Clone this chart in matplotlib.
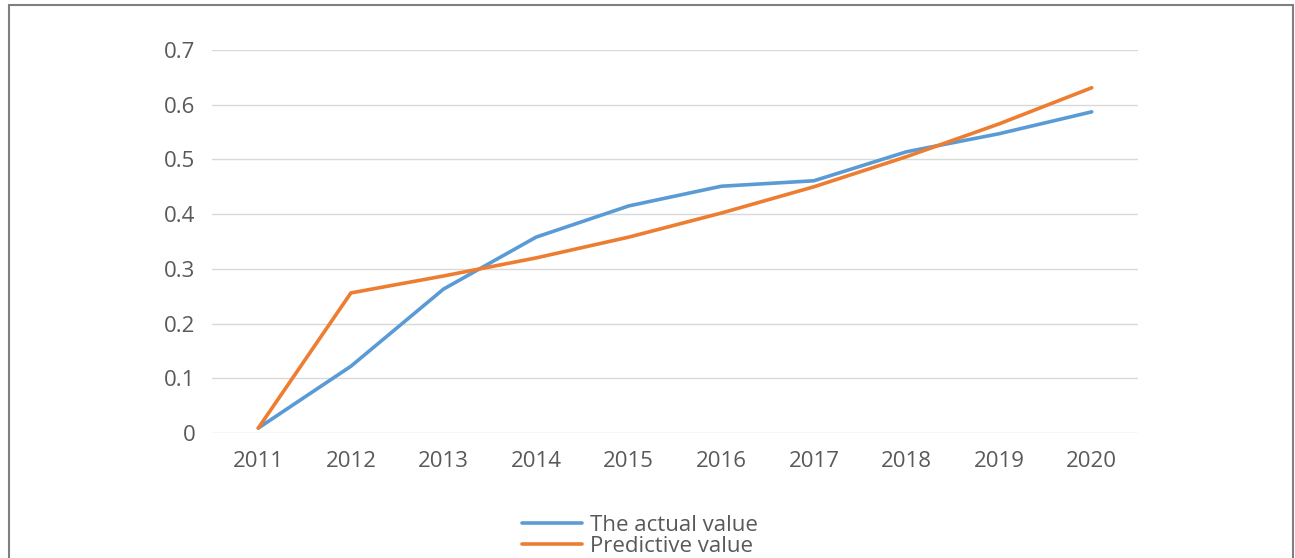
import matplotlib.pyplot as plt
from matplotlib.patches import Rectangle

# values
years = ["2011", "2012", "2013", "2014", "2015", "2016", "2017", "2018", "2019", "2020"]
actual = [0.009, 0.122, 0.263, 0.358, 0.415, 0.451, 0.461, 0.514, 0.547, 0.587]
predicted = [0.009, 0.256, 0.287, 0.320, 0.358, 0.402, 0.450, 0.505, 0.565, 0.631]
yticks = [0, 0.1, 0.2, 0.3, 0.4, 0.5, 0.6, 0.7]
ytick_labels = ["0", "0.1", "0.2", "0.3", "0.4", "0.5", "0.6", "0.7"]

plt.rcParams['font.family'] = ['Open Sans', 'DejaVu Sans']
txt = "#595959"

fig = plt.figure(figsize=(12.95, 5.58), dpi=100)
ax = fig.add_axes([0.1637, 0.224, 0.7151, 0.6864])

x = list(range(len(years)))
ax.plot(x, actual, color="#5B9BD5", lw=2.6, solid_capstyle="round", label="The actual value")
ax.plot(x, predicted, color="#ED7D31", lw=2.6, solid_capstyle="round", label="Predictive value")

ax.set_xlim(-0.5, len(years) - 0.5)
ax.set_ylim(0, 0.7)
ax.set_xticks(x)
ax.set_xticklabels(years)
ax.set_yticks(yticks)
ax.set_yticklabels(ytick_labels)
ax.tick_params(axis="both", length=0, labelsize=16, colors=txt)
ax.tick_params(axis="x", pad=13)
ax.tick_params(axis="y", pad=12)
ax.grid(axis="y", color="#D9D9D9", lw=1)
ax.set_axisbelow(True)
for s in ax.spines.values():
    s.set_visible(False)

leg = fig.legend(loc="center", bbox_to_anchor=(0.494, 0.039), frameon=False,
                 fontsize=16, handlelength=2.7, handletextpad=0.35, labelspacing=0.0)
for t in leg.get_texts():
    t.set_color(txt)

# outer grey frame (open at the bottom, cut off)
fig.patches.append(Rectangle((9 / 1295, -0.05), 1284 / 1295, 1.05 - 5 / 558,
                             transform=fig.transFigure, fill=False,
                             edgecolor="#7F7F7F", lw=1.5))

fig.savefig("out.png", dpi=100)
